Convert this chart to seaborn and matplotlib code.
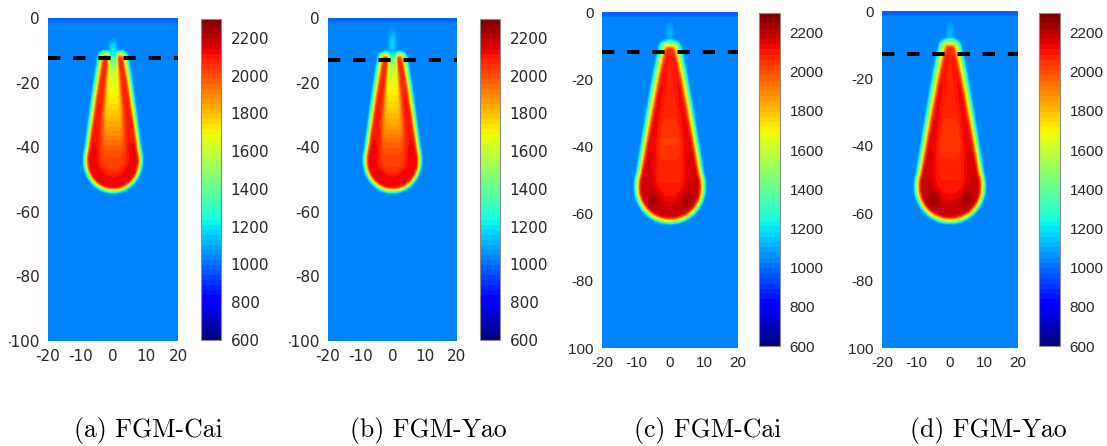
import numpy as np
import matplotlib
matplotlib.use("Agg")
import matplotlib.pyplot as plt
import seaborn as sns
from matplotlib.colors import Normalize
from matplotlib.cm import ScalarMappable
from matplotlib.transforms import Bbox, TransformedBbox, IdentityTransform

sns.set_style("white")
plt.rcParams["axes.unicode_minus"] = False

# ---------------------------------------------------------------- data
captions = ["(a) FGM-Cai", "(b) FGM-Yao", "(c) FGM-Cai", "(d) FGM-Yao"]
x_ticks = [-20, -10, 0, 10, 20]
y_ticks = [0, -20, -40, -60, -80, -100]
cbar_ticks = [600, 800, 1000, 1200, 1400, 1600, 1800, 2000, 2200]
t_range = [600, 2300]

# ambient / inlet temperatures and the dashed reference depth
t_ambient = [1035, 1035, 1035, 1035]
t_inlet = [985, 985, 985, 985]
inlet_depth = [1.4, 1.4, 1.6, 1.6]
dash_depth = [12.5, 13.0, 12.0, 12.8]

# hot-zone outline (depths in mm, half widths in mm)
flame_tip = [12.3, 12.5, 11.2, 11.0]
flame_waist = [44.0, 44.0, 52.0, 52.0]
flame_bottom = [52.3, 52.3, 61.0, 61.0]
flame_half_width = [7.4, 7.4, 8.5, 8.5]
tip_half_width = [2.4, 2.3, 0.6, 0.6]
flank_exponent = [0.9, 0.9, 0.9, 0.9]
# width of the thermal layer around the hot zone (top, bulb)
layer_top = [2.4, 2.4, 3.0, 3.0]
layer_bulb = [1.8, 1.8, 2.1, 2.1]

# temperature along the axis (core) and along the flame shell
profile_depth_ab = [12, 14, 17, 22, 28, 34, 38, 42, 48, 54]
core_temp_a = [1300, 1450, 1600, 1680, 1760, 1850, 1930, 2000, 2040, 2040]
shell_temp_a = [2080, 2090, 2090, 2090, 2090, 2100, 2110, 2130, 2140, 2140]
core_temp_b = [1320, 1470, 1610, 1690, 1770, 1860, 1940, 2005, 2045, 2045]
shell_temp_b = [2080, 2090, 2090, 2090, 2095, 2100, 2115, 2130, 2140, 2140]

profile_depth_cd = [11, 16, 24, 30, 35, 39, 44, 50, 56, 62]
core_temp_c = [2080, 2085, 2085, 2070, 2040, 2030, 2060, 2080, 2120, 2150]
shell_temp_c = [2090, 2110, 2120, 2120, 2125, 2130, 2150, 2170, 2180, 2170]
core_temp_d = [2080, 2085, 2085, 2070, 2045, 2035, 2065, 2085, 2125, 2150]
shell_temp_d = [2090, 2110, 2120, 2120, 2125, 2135, 2150, 2170, 2185, 2170]

# hot lobes inside the flame bulb
lobe_x = [3.5, 3.5, 4.7, 4.7]
lobe_depth = [47.0, 47.0, 55.5, 55.5]
lobe_amp = [0, 0, 60, 65]

# weak plume above the flame tip
plume_depth = [9.5, 8.0, 7.0, 7.0]
plume_length = [2.0, 3.5, 3.0, 3.0]
plume_amp = [200, 160, 90, 100]

profile_depths = [profile_depth_ab, profile_depth_ab, profile_depth_cd, profile_depth_cd]
core_temps = [core_temp_a, core_temp_b, core_temp_c, core_temp_d]
shell_temps = [shell_temp_a, shell_temp_b, shell_temp_c, shell_temp_d]

# ---------------------------------------------------------------- field
x = np.linspace(-20, 20, 401)
depth = np.linspace(0, 100, 501)
X, D = np.meshgrid(x, depth)


def gaussian_kernel(sigma_px):
    r = int(3 * sigma_px) + 1
    t = np.arange(-r, r + 1)
    k = np.exp(-0.5 * (t / sigma_px) ** 2)
    return k / k.sum()


def blur(F, sx, sy):
    kx, ky = gaussian_kernel(sx), gaussian_kernel(sy)
    rx, ry = len(kx) // 2, len(ky) // 2
    P = np.pad(F, ((ry, ry), (rx, rx)), mode="edge")
    P = np.apply_along_axis(lambda r: np.convolve(r, kx, mode="valid"), 1, P)
    P = np.apply_along_axis(lambda c: np.convolve(c, ky, mode="valid"), 0, P)
    return P


def temperature_field(i):
    tip, waist, bottom = flame_tip[i], flame_waist[i], flame_bottom[i]
    rmax, rtip, p = flame_half_width[i], tip_half_width[i], flank_exponent[i]
    ax_x = np.abs(X)

    # distance outside the hot zone: cone on top, ellipse below, merged
    r_up = rtip + (rmax - rtip) * np.clip((D - tip) / (waist - tip), 0, 1) ** p
    d_flank = ax_x - r_up
    s_bulb = np.sqrt((X / rmax) ** 2 + ((D - waist) / (bottom - waist)) ** 2)
    d_bulb = (s_bulb - 1) * rmax
    d_cap = np.sqrt(np.maximum(ax_x - rtip, 0) ** 2 + (tip - D) ** 2)
    dist = np.where(D < tip, d_cap,
                    np.where(D <= waist, np.minimum(d_flank, d_bulb), d_bulb))
    layer = np.interp(D, [tip, waist], [layer_top[i], layer_bulb[i]])
    mask = np.clip(1 - dist / layer, 0, 1)

    # core-to-shell blend inside the hot zone
    s = np.where(D < tip, ax_x / rtip,
                 np.where(D <= waist, np.minimum(ax_x / r_up, 1.0), s_bulb))
    s = np.clip(s, 0, 1)
    w = np.clip((s - 0.35) / 0.45, 0, 1)
    w = w * w * (3 - 2 * w)
    core = np.interp(D, profile_depths[i], core_temps[i])
    shell = np.interp(D, profile_depths[i], shell_temps[i])
    t_in = core + (shell - core) * w
    for sgn in (-1, 1):
        t_in += lobe_amp[i] * np.exp(-((X - sgn * lobe_x[i]) / 1.6) ** 2
                                     - ((D - lobe_depth[i]) / 3.0) ** 2)

    bg = np.where(D < inlet_depth[i], t_inlet[i], t_ambient[i])
    T = bg + (t_in - bg) * mask
    T += (1 - mask) * plume_amp[i] * np.exp(-(X / 0.9) ** 2
                                           - ((D - plume_depth[i]) / plume_length[i]) ** 2)
    return blur(T, 3.0, 1.5)


# ---------------------------------------------------------------- figure
W, H = 1107, 446
fig = plt.figure(figsize=(W / 100, H / 100), dpi=100)

cmap = matplotlib.colormaps["jet"].resampled(64)
norm = Normalize(*t_range)
levels = np.linspace(t_range[0], t_range[1], 65)


def frac(l, t, r, b):
    return [l / W, 1 - b / H, (r - l) / W, (b - t) / H]


axes_px = [(48, 18, 178, 341), (328, 18, 457, 341), (602, 12, 738, 348), (882, 11, 1018, 348)]
cbar_px = [(201, 19, 221, 340), (480, 19, 500, 340), (759, 13, 780, 346), (1039, 13, 1060, 346)]
clip_left = [9, 289, 568, 848]
caption_x = [148, 428, 708, 988]
tick_family = ["DejaVu Sans", "DejaVu Sans", "Liberation Sans", "Liberation Sans"]
label_color = "#262626"

for i in range(4):
    ax = fig.add_axes(frac(*axes_px[i]))
    T = temperature_field(i)
    ax.contourf(X, -D, T, levels=levels, cmap=cmap, norm=norm)
    ax.axhline(-dash_depth[i], color="black", lw=2.9,
               ls=(0, (3.05, 3.2)), dash_capstyle="butt")
    ax.set_xlim(-20, 20)
    ax.set_ylim(-100, 0)
    ax.set_xticks(x_ticks)
    ax.set_yticks(y_ticks)
    ax.set_xticklabels([str(v) for v in x_ticks])
    ax.set_yticklabels([str(v) for v in y_ticks])
    for sp in ax.spines.values():
        sp.set_visible(False)
    ax.tick_params(length=0, labelsize=11, labelcolor=label_color, pad=6)
    clip = TransformedBbox(Bbox.from_extents(clip_left[i], 0, W, H), IdentityTransform())
    for lab in ax.get_xticklabels() + ax.get_yticklabels():
        lab.set_family(tick_family[i])
        lab.set_clip_box(clip)
        lab.set_clip_on(True)

    cax = fig.add_axes(frac(*cbar_px[i]))
    cb = fig.colorbar(ScalarMappable(norm=norm, cmap=cmap), cax=cax, ticks=cbar_ticks)
    cb.outline.set_edgecolor("#8a8a8a")
    cb.outline.set_linewidth(0.8)
    cax.tick_params(direction="in", length=3, width=0.6, color="#404040",
                    labelsize=11, labelcolor=label_color, pad=7)
    for lab in cax.get_yticklabels():
        lab.set_family(tick_family[i])

    fig.text(caption_x[i] / W, 1 - 430 / H, captions[i], family="cmr10",
             fontsize=18.5, ha="center", va="center", color="black")

fig.savefig("out.png", dpi=100)
